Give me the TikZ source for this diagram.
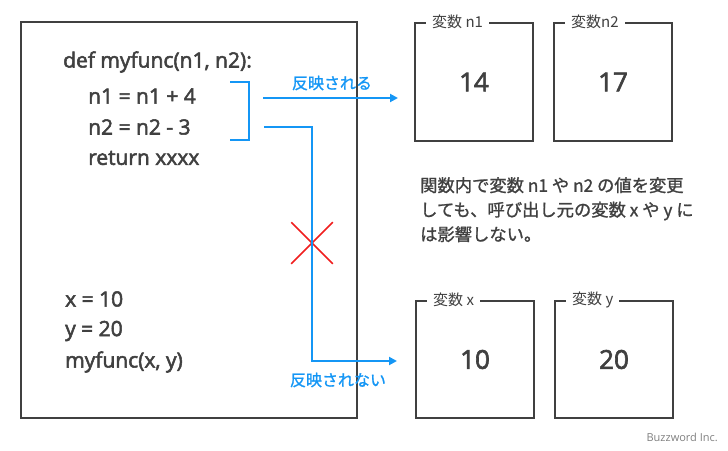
\documentclass[tikz,border=0pt]{standalone}
\usepackage{fontspec}
\setmainfont{Open Sans}
\newfontfamily\heavy{Open Sans}[RawFeature={embolden=2.5}]
\newfontfamily\jp{Noto Sans CJK JP}
\newfontfamily\jpheavy{Noto Sans CJK JP}[RawFeature={embolden=1.2}]
\usepackage{tikz}
\usetikzlibrary{shapes,arrows.meta,positioning}
\definecolor{linegray}{RGB}{64,64,64}
\definecolor{refblue}{RGB}{20,150,245}
\definecolor{crossred}{RGB}{240,30,30}
\tikzstyle{framebox} = [draw=linegray, line width=2pt, rectangle, inner sep=0pt]
\tikzstyle{varbox} = [framebox, minimum width=118pt, minimum height=118pt]
\tikzstyle{vartitle} = [fill=white, text=linegray, inner xsep=6pt, inner ysep=0pt, font=\jp\fontsize{15}{17}\selectfont]
\tikzstyle{value} = [text=linegray, font=\heavy\fontsize{26}{30}\selectfont]
\tikzstyle{codeline} = [anchor=west, text=linegray, inner sep=0pt, font=\heavy\fontsize{21}{24}\selectfont]
\tikzstyle{link} = [draw=refblue, line width=2pt, -{Triangle[length=8pt,width=8pt]}]
\tikzstyle{linklabel} = [text=refblue, inner sep=0pt, font=\jpheavy\fontsize{16}{18}\selectfont]
\tikzstyle{note} = [text=linegray, align=left, inner sep=0pt, font=\jpheavy\fontsize{17.3}{24.5}\selectfont]

\begin{document}
\begin{tikzpicture}[x=1pt, y=-1pt]
	\useasboundingbox (0,0) rectangle (728,450);
	\node[framebox, minimum width=336pt, minimum height=396pt] (prog) at (189,220) {};
	\node[codeline] (def) at (63,62) {def myfunc(n1, n2):};
	\node[codeline] (first) at (88,96) {n1 = n1 + 4};
	\node[codeline] (second) at (88,127) {n2 = n2 - 3};
	\node[codeline] (ret) at (88,158) {return xxxx};
	\node[codeline] (setx) at (65,299) {x = 10};
	\node[codeline] (sety) at (65,331) {y = 20};
	\node[codeline] (call) at (65,362) {myfunc(x, y)};

	\node[varbox] (n1box) at (474,82) {};
	\node[vartitle, right=12pt] at (n1box.north west) {変数 n1};
	\node[value] (n1val) at (n1box.center) {14};
	\node[varbox] (n2box) at (613,82) {};
	\node[vartitle, right=12pt] at (n2box.north west) {変数n2};
	\node[value] (n2val) at (n2box.center) {17};
	\node[varbox, minimum height=117pt] (xbox) at (475,359.5) {};
	\node[vartitle, right=12pt] at (xbox.north west) {変数 x};
	\node[value] (xval) at (xbox.center) {10};
	\node[varbox, minimum height=117pt] (ybox) at (614,359.5) {};
	\node[vartitle, right=12pt] at (ybox.north west) {変数 y};
	\node[value] (yval) at (ybox.center) {20};

	\draw[refblue, line width=2pt] (230,82) -| (249,140) -- (230,140);
	\coordinate (hit) at (263,98);
	\coordinate (hitend) at (398,98);
	\draw[link] (hit) -- (hitend);
	\node[linklabel] (hitlabel) at (332,83) {反映される};
	\node[draw=crossred, cross out, line width=1.5pt, minimum size=40pt, inner sep=0pt] (nope) at (312,243) {};
	\coordinate (miss) at (264,127);
	\coordinate (missend) at (397,361);
	\draw[link] (miss) -- (miss -| nope) -- (nope |- missend) -- (missend);
	\node[linklabel] (misslabel) at (338,380) {反映されない};

	\node[note, anchor=north west] (remark) at (420,177) {関数内で変数 n1 や n2 の値を変更\\しても、呼び出し元の変数 x や y に\\は影響しない。};
	\node[anchor=east, text=gray, inner sep=0pt, font=\fontsize{11}{13}\selectfont] (credit) at (718,437) {Buzzword Inc.};
\end{tikzpicture}
\end{document}
